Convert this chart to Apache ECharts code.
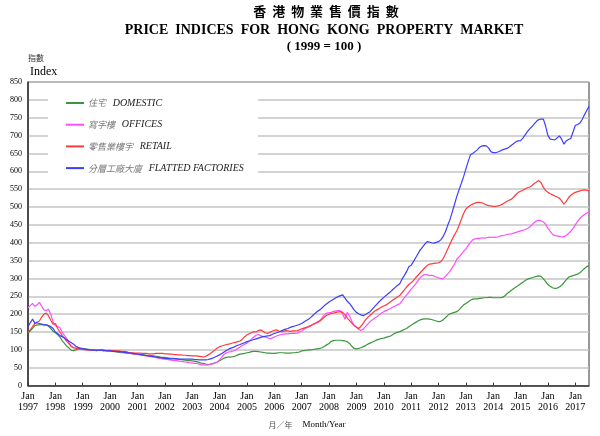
<!DOCTYPE html>
<html>
<head>
<meta charset="utf-8">
<script src="https://cdn.jsdelivr.net/npm/echarts@6/dist/echarts.min.js"></script>
<style>html,body{margin:0;padding:0;background:#fff;}#c{width:600px;height:436px;}</style>
</head>
<body>
<div id="c"></div>
<script>
// Monthly indices, Jan 1997 .. Jul 2017 (1999 = 100)
const startYear = 1997;
const yearTicks = ['1997','1998','1999','2000','2001','2002','2003','2004','2005','2006','2007','2008','2009','2010','2011','2012','2013','2014','2015','2016','2017'];
const yTicks = [0,50,100,150,200,250,300,350,400,450,500,550,600,650,700,750,800,850];
const seriesNames = ['DOMESTIC','OFFICES','RETAIL','FLATTED FACTORIES'];
const seriesNamesZh = ['住宅','寫字樓','零售業樓宇','分層工廠大廈'];

const domestic = [
148,153,160,168,170,170,171,170,170,166,160,152,
148,143,136,126,118,110,105,99,98,100,102,103,
104,103,102,101,100,100,100,99,99,98,98,97,
97,96,95,94,93,92,92,91,91,90,89,89,
88,87,87,86,85,84,84,83,82,81,80,79,
79,78,77,76,76,75,74,73,72,71,70,70,
69,68,67,65,63,62,60,59,60,62,64,66,
70,73,77,79,80,80,81,83,86,88,89,90,
92,93,95,96,96,95,94,93,92,91,91,90,
90,91,92,92,92,91,91,91,92,92,93,94,
97,98,99,100,100,101,102,103,104,106,110,114,
118,124,126,127,127,127,126,125,123,118,110,104,
103,104,106,109,112,116,119,122,125,128,130,132,
133,135,137,139,143,147,149,151,154,157,160,165,
169,173,177,181,184,186,187,187,186,185,183,181,
179,180,184,190,196,201,203,205,207,212,219,226,
230,234,239,242,243,243,244,245,246,246,247,247,
246,246,246,246,247,251,257,262,267,272,276,280,
285,289,294,298,300,302,304,306,307,306,299,291,
283,278,274,272,273,276,281,288,296,303,306,308,
310,312,316,322,328,333,336
];

const offices = [
218,224,230,222,226,233,222,212,210,214,200,178,
168,165,162,150,140,132,120,110,106,104,103,102,
101,100,100,99,100,101,100,99,99,99,98,97,
97,97,96,96,95,94,93,92,91,90,89,88,
87,86,85,84,83,82,81,80,79,77,76,75,
74,73,72,71,70,70,69,68,67,66,65,64,
63,62,62,60,58,58,57,58,59,61,63,66,
72,80,88,92,94,95,97,100,104,108,112,116,
119,124,130,136,141,143,140,137,136,134,131,133,
136,139,141,143,144,145,145,146,146,146,147,150,
153,157,161,165,168,172,175,179,182,190,198,203,
204,205,208,209,210,209,200,186,205,195,180,168,
163,158,154,158,165,172,179,184,189,193,198,203,
207,210,213,216,220,223,226,229,237,246,254,262,
270,277,285,294,302,308,311,310,308,309,307,304,
302,300,299,305,313,320,330,340,353,360,368,376,
382,392,401,408,411,412,412,414,413,414,415,416,
415,415,416,419,420,421,423,424,425,427,429,431,
433,435,437,440,444,450,457,461,463,461,458,452,
440,432,424,420,419,418,416,417,421,426,432,440,
450,460,468,474,479,483,486
];

const retail = [
150,156,165,174,178,181,192,200,203,195,183,172,
174,160,150,140,132,124,117,109,106,105,104,103,
102,101,100,100,101,100,99,100,101,100,99,99,
99,98,98,97,97,96,96,95,93,92,92,91,
91,91,90,90,90,89,89,89,90,90,90,90,
89,89,88,88,87,87,86,86,85,85,84,84,
83,83,83,82,81,80,82,86,90,95,100,105,
109,111,113,115,116,118,120,121,123,125,130,137,
142,145,148,151,150,154,156,152,148,146,149,152,
155,156,153,151,152,154,153,152,153,153,154,156,
159,161,163,165,168,171,174,177,181,186,192,197,
200,202,203,205,206,207,205,198,189,182,175,169,
164,160,166,175,184,191,197,203,208,212,216,220,
223,226,230,235,240,244,248,252,260,268,276,283,
288,294,302,309,316,323,330,336,340,341,342,343,
344,347,355,368,382,396,410,422,433,448,465,482,
494,500,505,508,511,513,513,512,509,506,504,503,
502,502,503,505,508,512,516,519,522,528,535,541,
544,547,551,554,556,560,566,570,574,568,555,546,
541,537,534,531,528,525,517,508,515,526,533,538,
541,543,545,547,548,547,545
];

const factories = [
165,176,186,175,176,174,172,170,170,168,165,160,
150,146,140,137,133,128,124,120,116,110,107,105,
103,102,101,100,99,99,98,99,99,98,98,97,
97,96,96,95,95,94,93,93,92,91,90,89,
88,87,86,85,84,83,82,81,80,79,78,77,
76,76,75,75,75,75,74,74,74,74,74,74,
74,73,73,72,72,72,72,73,75,77,80,83,
86,90,94,98,102,105,107,110,113,115,118,120,
123,125,127,129,131,133,135,137,138,139,140,143,
146,148,150,153,156,158,160,163,165,167,169,171,
174,178,182,186,191,197,203,208,212,218,224,229,
234,238,242,246,249,252,254,245,236,230,221,212,
205,201,198,196,199,203,207,214,221,228,235,241,
247,252,258,263,269,275,280,285,298,308,319,333,
337,347,358,369,380,388,396,403,402,400,399,401,
403,408,417,430,448,464,485,507,529,548,566,585,
606,627,646,650,655,660,667,671,672,671,665,655,
652,652,654,657,660,662,664,668,673,678,683,685,
686,693,702,711,719,725,733,740,745,746,746,726,
700,690,689,688,693,699,690,676,685,689,692,710,
728,731,735,745,758,770,782
];

const colors = ['#3c963c','#ff4dff','#ff3b3b','#3d3dff'];
const allData = [domestic, offices, retail, factories];
const lastIndex = domestic.length - 1;

const chart = echarts.init(document.getElementById('c'), null, {renderer:'canvas'});
const zhMap = {};
seriesNames.forEach((n,i)=>{ zhMap[n] = seriesNamesZh[i]; });

const option = {
  animation: false,
  backgroundColor: '#fff',
  grid: { left: 28, right: 11, top: 82, bottom: 50.4, show: true, borderColor: '#333', borderWidth: 1, backgroundColor: 'transparent' },
  xAxis: {
    type: 'value', min: 0, max: lastIndex, interval: 12,
    axisLine: { show: true, lineStyle: { color: '#333', width: 1.5 } },
    axisTick: { show: true, inside: true, length: 3, lineStyle: { color: '#333' } },
    splitLine: { show: false },
    axisLabel: {
      margin: 5, fontFamily: 'Liberation Serif', fontSize: 10, color: '#000', lineHeight: 11,
      showMaxLabel: false,
      formatter: function (v) {
        if (v % 12 !== 0) return '';
        const y = yearTicks[v / 12];
        return y ? 'Jan\n' + y : '';
      }
    }
  },
  yAxis: {
    type: 'value', min: yTicks[0], max: yTicks[yTicks.length - 1], interval: 50,
    axisLine: { show: true, lineStyle: { color: '#333', width: 1.5 } },
    axisTick: { show: false },
    splitLine: { show: true, lineStyle: { color: '#c4c4c4', width: 1.5 } },
    axisLabel: { margin: 6, fontFamily: 'Liberation Serif', fontSize: 8, color: '#000' }
  },
  legend: {
    orient: 'vertical', left: 65, top: 97, padding: 0,
    itemWidth: 18, itemHeight: 12, itemGap: 9.7,
    data: seriesNames,
    itemStyle: { opacity: 0 },
    formatter: function (name) { return '{zh|' + zhMap[name] + '}  {en|' + name + '}'; },
    textStyle: {
      lineHeight: 12, padding: [0, 0, 0, -1],
      rich: {
        zh: { fontFamily: 'Noto Sans CJK TC', fontSize: 9, fontStyle: 'italic', color: '#777' },
        en: { fontFamily: 'Liberation Serif', fontSize: 10, fontStyle: 'italic', color: '#222' }
      }
    }
  },
  graphic: [
    { type: 'rect', z: 1, shape: { x: 48, y: 92, width: 210, height: 87 }, style: { fill: '#fff' } },
    { type: 'text', x: 326, y: 11, style: { text: '香  港  物  業  售  價  指  數', font: 'bold 13px "Noto Sans CJK TC"', fill: '#000', align: 'center', verticalAlign: 'middle' } },
    { type: 'text', x: 324, y: 30, style: { text: 'PRICE  INDICES  FOR  HONG  KONG  PROPERTY  MARKET', font: 'bold 14px "Liberation Serif"', fill: '#000', align: 'center', verticalAlign: 'middle' } },
    { type: 'text', x: 324, y: 47, style: { text: '( 1999 = 100 )', font: 'bold 13px "Liberation Serif"', fill: '#000', align: 'center', verticalAlign: 'middle' } },
    { type: 'text', x: 36, y: 58, style: { text: '指數', font: '8px "Noto Sans CJK TC"', fill: '#333', align: 'center', verticalAlign: 'middle' } },
    { type: 'text', x: 30, y: 72, style: { text: 'Index', font: '12px "Liberation Serif"', fill: '#000', align: 'left', verticalAlign: 'middle' } },
    { type: 'text', x: 307, y: 425, style: {
        text: '{zh|月／年}   {en|Month/Year}', align: 'center', verticalAlign: 'middle',
        rich: { zh: { fontFamily: 'Noto Sans CJK TC', fontSize: 8, fill: '#555' }, en: { fontFamily: 'Liberation Serif', fontSize: 9, fill: '#000' } }
      } }
  ],
  series: seriesNames.map(function (n, i) {
    return {
      name: n, type: 'line', symbol: 'none', z: 2 + i,
      lineStyle: { color: colors[i], width: 1.2 },
      itemStyle: { color: colors[i] },
      data: allData[i].map(function (v, k) { return [k, v]; })
    };
  })
};
chart.setOption(option);
</script>
</body>
</html>
